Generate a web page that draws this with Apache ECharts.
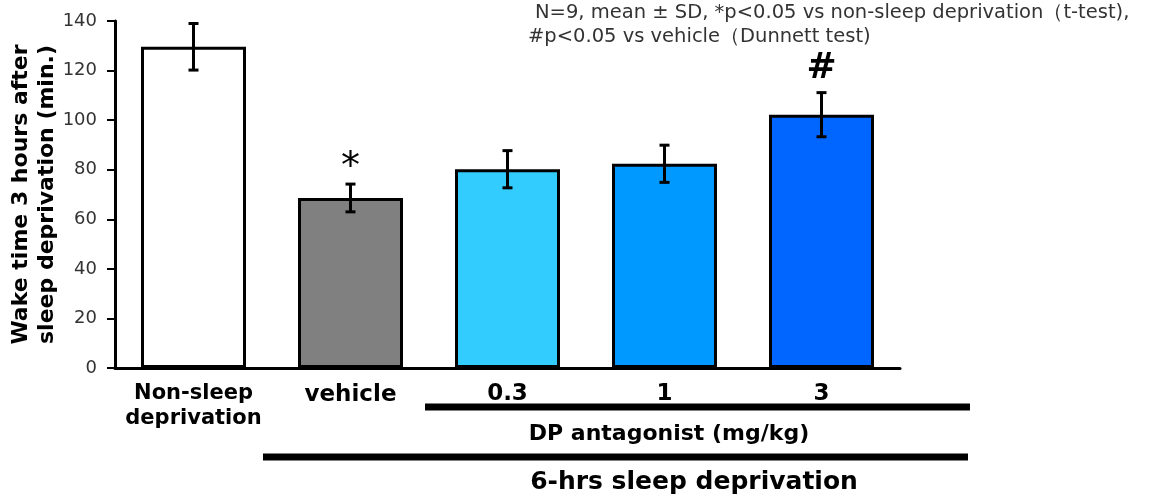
<!DOCTYPE html>
<html>
<head>
<meta charset="utf-8">
<script src="https://cdn.jsdelivr.net/npm/echarts@6/dist/echarts.min.js"></script>
<style>
  html, body { margin: 0; padding: 0; background: #fff; }
  #chart { width: 1155px; height: 501px; }
</style>
</head>
<body>
<div id="chart"></div>
<script>
// data
const categories = ['Non-sleep\ndeprivation', 'vehicle', '0.3', '1', '3']
const means = [129.6, 68.6, 80.2, 82.4, 102.2]
const sds = [9.4, 5.6, 7.5, 7.5, 8.9]
const sigMarks = ['', '*', '', '', '#']
const yMin = 0
const yMax = 140
const yStep = 20

// styles
const barColors = ['#FFFFFF', '#808080', '#33CCFF', '#0099FF', '#0066FF']
const boldFont = 'DejaVu Sans'

const chart = echarts.init(document.getElementById('chart'))

const labelKey = ['a', 'b', 'c', 'c', 'c']

chart.setOption({
  animation: false,
  grid: { left: 115, right: 255, top: 21, bottom: 133, containLabel: false, outerBoundsMode: 'none' },
  xAxis: {
    type: 'category',
    data: categories,
    axisLine: { lineStyle: { color: '#000', width: 3 } },
    axisTick: { show: false },
    axisLabel: {
      interval: 0,
      margin: 13,
      formatter: (v, i) => v.split('\n').map(s => '{' + labelKey[i] + '|' + s + '}').join('\n'),
      rich: {
        a: { fontFamily: boldFont, fontWeight: 'bold', fontSize: 21, lineHeight: 25, color: '#000' },
        b: { fontFamily: boldFont, fontWeight: 'bold', fontSize: 23, lineHeight: 28, color: '#000' },
        c: { fontFamily: boldFont, fontWeight: 'bold', fontSize: 23, lineHeight: 26, color: '#000' }
      }
    }
  },
  yAxis: {
    type: 'value',
    min: yMin,
    max: yMax,
    interval: yStep,
    name: 'Wake time 3 hours after\nsleep deprivation (min.)',
    nameLocation: 'middle',
    nameRotate: 90,
    nameGap: 55,
    nameMoveOverlap: false,
    nameTextStyle: { fontFamily: boldFont, fontWeight: 'bold', fontSize: 22, lineHeight: 26, color: '#000' },
    axisLine: { show: true, lineStyle: { color: '#000', width: 3 } },
    axisTick: { show: true, length: 8, lineStyle: { color: '#000', width: 2 } },
    axisLabel: { margin: 18, fontFamily: 'DejaVu Sans', fontSize: 18, color: '#333' },
    splitLine: { show: false }
  },
  series: [
    {
      type: 'bar',
      barWidth: 105,
      data: means.map((v, i) => ({
        value: v,
        itemStyle: { color: barColors[i], borderColor: '#000', borderWidth: 3 }
      }))
    },
    {
      // error bars
      type: 'custom',
      z: 5,
      data: means.map((v, i) => [i, v, sds[i]]),
      renderItem: (params, api) => {
        const i = api.value(0)
        const m = api.value(1)
        const s = api.value(2)
        const top = api.coord([i, m + s])
        const bot = api.coord([i, m - s])
        const w = 5
        const st = { stroke: '#000', lineWidth: 3 }
        return {
          type: 'group',
          children: [
            { type: 'line', shape: { x1: top[0], y1: top[1], x2: bot[0], y2: bot[1] }, style: st },
            { type: 'line', shape: { x1: top[0] - w, y1: top[1], x2: top[0] + w, y2: top[1] }, style: st },
            { type: 'line', shape: { x1: bot[0] - w, y1: bot[1], x2: bot[0] + w, y2: bot[1] }, style: st }
          ]
        }
      }
    },
    {
      // significance marks
      type: 'custom',
      z: 6,
      data: means.map((v, i) => [i, v + sds[i], sigMarks[i]]),
      renderItem: (params, api) => {
        const mark = sigMarks[params.dataIndex]
        if (!mark) return null
        const p = api.coord([api.value(0), api.value(1)])
        const isStar = mark === '*'
        return {
          type: 'text',
          x: p[0],
          y: p[1] - (isStar ? 16 : 24),
          style: {
            text: mark,
            fontFamily: boldFont,
            fontSize: isStar ? 38 : 36,
            fontWeight: isStar ? 'normal' : 'bold',
            fill: '#000',
            align: 'center',
            verticalAlign: 'middle'
          }
        }
      }
    }
  ],
  graphic: [
    {
      type: 'text', left: 535, top: 3,
      style: { text: 'N=9, mean ± SD, *p<0.05 vs non-sleep deprivation（t-test),', fontFamily: 'DejaVu Sans', fontSize: 19.5, fill: '#333' }
    },
    {
      type: 'text', left: 528, top: 27,
      style: { text: '#p<0.05 vs vehicle（Dunnett test)', fontFamily: 'DejaVu Sans', fontSize: 19.5, fill: '#333' }
    },
    { type: 'line', shape: { x1: 425, y1: 407, x2: 970, y2: 407 }, style: { stroke: '#000', lineWidth: 7 } },
    {
      type: 'text', x: 669, y: 434,
      style: { text: 'DP antagonist (mg/kg)', fontFamily: boldFont, fontWeight: 'bold', fontSize: 22, fill: '#000', align: 'center', verticalAlign: 'middle' }
    },
    { type: 'line', shape: { x1: 263, y1: 457, x2: 968, y2: 457 }, style: { stroke: '#000', lineWidth: 7 } },
    {
      type: 'text', x: 694, y: 482,
      style: { text: '6-hrs sleep deprivation', fontFamily: boldFont, fontWeight: 'bold', fontSize: 25, fill: '#000', align: 'center', verticalAlign: 'middle' }
    }
  ]
})
</script>
</body>
</html>
